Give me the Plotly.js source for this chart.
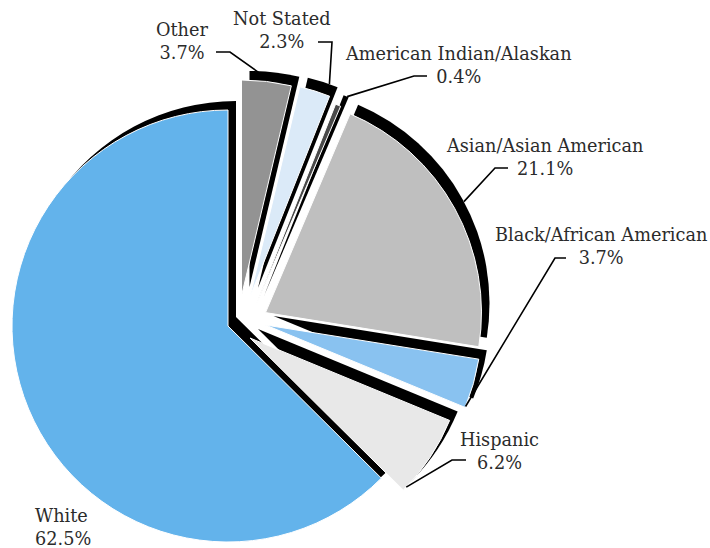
<!DOCTYPE html>
<html><head><meta charset="utf-8">
<script src="https://cdn.plot.ly/plotly-3.0.1.min.js"></script>
<style>html,body{margin:0;padding:0;overflow:hidden;background:#fff}#chart{position:absolute;left:-20px;top:0;width:730px;height:600px}</style>
</head><body><div id="chart"></div>
<script>
// ---- data ----
const categories = ["Other","Not Stated","American Indian/Alaskan","Asian/Asian American","Black/African American","Hispanic","White"];
const percents = [3.7, 2.3, 0.4, 21.1, 3.7, 6.2, 62.5];
const pctLabels = ["3.7%","2.3%","0.4%","21.1%","3.7%","6.2%","62.5%"];

// ---- style ----
const sliceColors = ["#939393","#dbeaf8","#4a4a4a","#bfbfbf","#89c2f0","#e8e8e8","#63b3eb"];
// page-pixel position of each exploded slice's tip
const sliceTips = [[241.5,296],[250,297],[256,305],[265.5,312.6],[265.5,325],[250,338],[228,326]];

const OFF = 20;              // plot div starts 20px left of the page
const W = 730, H = 600;
const R = 216, SHX = 8, SHY = -9;
function dom(cx, cy) {       // cx, cy in page pixels
  return {x: [(cx + OFF - R) / W, (cx + OFF + R) / W],
          y: [(H - cy - R) / H, (H - cy + R) / H]};
}
const px = x => (x + OFF) / W, py = y => 1 - y / H;

const total = percents.reduce((a, b) => a + b, 0);
const starts = [], ends = [];
let cum = 0;
percents.forEach(v => { starts.push(cum / total * 2 * Math.PI); cum += v; ends.push(cum / total * 2 * Math.PI); });
const dirv = th => [Math.sin(th), -Math.cos(th)];

const labelLayout = [
  {x: 182, y: 41, xa: 'center', start: [216, 52], elbow: [230, 52], t: 0.21, k: 0.99, sh: 1},
  {x: 282, y: 31, xa: 'center', start: [318, 42], elbow: [332, 42], t: 0.72, k: 1.0, sh: 1},
  {x: 458, y: 66, xa: 'center', start: [427, 76], elbow: [414, 76], t: 0.7, k: 1.0, sh: 1},
  {x: 544, y: 157, xa: 'center', start: [508, 168], elbow: [495, 168], t: 0.51, k: 1.0, sh: 1},
  {x: 601, y: 247, xa: 'center', start: [566, 258], elbow: [555, 258], t: 0.98, k: 1.0, sh: 0},
  {x: 499, y: 451, xa: 'center', start: [466, 460], elbow: [452, 460], t: 0.95, k: 1.0, sh: 0},
  {x: 33, y: 527, xa: 'left', start: null}
];

const font = {family: "DejaVu Serif", size: 17.7, color: "#2b2b2b"};
const annotations = [], shapes = [];
labelLayout.forEach((L, i) => {
  annotations.push({
    x: px(L.x), y: py(L.y), xref: 'paper', yref: 'paper',
    xanchor: L.xa, yanchor: 'middle', align: L.xa === 'left' ? 'left' : 'center',
    text: categories[i] + '<br>' + pctLabels[i], showarrow: false, font: font
  });
  if (L.start) {
    const a = sliceTips[i];
    const th = starts[i] + L.t * (ends[i] - starts[i]);
    const d = dirv(th);
    const ex = a[0] + L.sh * SHX + L.k * R * d[0];
    const ey = a[1] + L.sh * SHY + L.k * R * d[1];
    shapes.push({
      type: 'path', xref: 'paper', yref: 'paper',
      path: `M ${px(L.start[0])} ${py(L.start[1])} L ${px(L.elbow[0])} ${py(L.elbow[1])} L ${px(ex)} ${py(ey)}`,
      line: {color: '#000', width: 1.6}
    });
  }
});

// one pie trace per slice (other slices transparent) so each slice can be offset on its own
function sliceTrace(i, isShadow) {
  const tip = sliceTips[i];
  const cx = tip[0] + (isShadow ? SHX : 0), cy = tip[1] + (isShadow ? SHY : 0);
  return {
    type: 'pie', labels: categories, values: percents, sort: false, direction: 'clockwise', rotation: 0,
    marker: {
      colors: categories.map((_, j) => j === i ? (isShadow ? '#000' : sliceColors[j]) : 'rgba(0,0,0,0)'),
      line: {color: '#fff', width: categories.map((_, j) => (j === i && !isShadow) ? 1 : 0)}
    },
    textinfo: 'none', hoverinfo: 'none', showlegend: false, domain: dom(cx, cy)
  };
}
const traces = [];
categories.forEach((_, i) => traces.push(sliceTrace(i, true)));
categories.forEach((_, i) => traces.push(sliceTrace(i, false)));

Plotly.newPlot('chart', traces, {
  width: W, height: H, margin: {l: 0, r: 0, t: 0, b: 0},
  paper_bgcolor: '#fff', showlegend: false, annotations: annotations, shapes: shapes
}, {staticPlot: true});
</script></body></html>
